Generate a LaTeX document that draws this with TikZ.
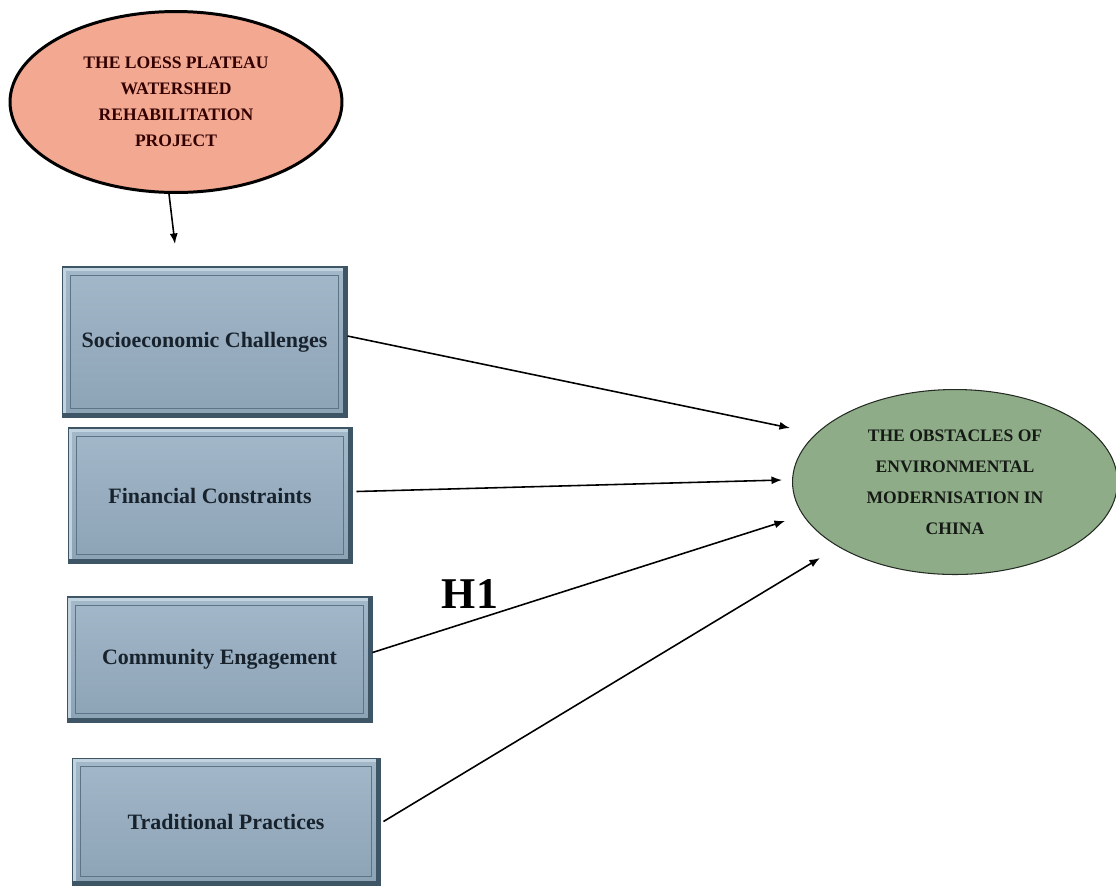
\documentclass[tikz,border=0pt]{standalone}
\usepackage{fontspec}
\setmainfont{Liberation Serif}
\usetikzlibrary{shapes.geometric,arrows.meta}

\definecolor{salmon}{HTML}{F2A891}
\definecolor{sage}{HTML}{8FAC89}
\definecolor{boxtop}{HTML}{A3B8C9}
\definecolor{boxbottom}{HTML}{8CA3B6}
\definecolor{boxlight}{HTML}{C2D3E0}
\definecolor{boxdark}{HTML}{3E5566}
\definecolor{boxtext}{HTML}{18222C}

\begin{document}
\begin{tikzpicture}
[
	x=0.02cm, y=-0.02cm,
	box/.style={rectangle,draw=boxdark,line width=0.6pt,top color=boxtop,bottom color=boxbottom,
		text=boxtext,font=\fontsize{12.5}{15}\selectfont\bfseries,
		path picture={
			\draw[boxlight,line width=5pt] (path picture bounding box.south west) -- (path picture bounding box.north west) -- (path picture bounding box.north east);
			\draw[boxdark,line width=5pt] (path picture bounding box.south west) -- (path picture bounding box.south east) -- (path picture bounding box.north east);
			\draw[boxdark!60!boxbottom,line width=0.4pt] ([shift={(5pt,-5pt)}]path picture bounding box.north west) rectangle ([shift={(-5pt,5pt)}]path picture bounding box.south east);
		}},
	oval/.style={ellipse,inner sep=0pt,align=center},
	arrow/.style={-{Latex[length=6pt,width=4.6pt]},line width=0.9pt}
]

	\useasboundingbox (0,0) rectangle (1116,887);

	% project
	\node[oval,draw=black,line width=1.7pt,fill=salmon,text=black!80!red,
		minimum width=6.64cm,minimum height=3.62cm,
		font=\fontsize{10}{14.7}\selectfont\bfseries] at (176,102) (project)
		{THE LOESS PLATEAU\\WATERSHED\\REHABILITATION\\PROJECT};
	\coordinate (drop) at (175,244);
	\draw[arrow] ([xshift=-0.14cm]project.south) -- (drop);

	% factors
	\node[box,minimum width=5.7cm,minimum height=3cm] at (204.5,342) (socio) {Socioeconomic Challenges};
	\node[box,minimum width=5.68cm,minimum height=2.7cm] at (210,495.5) (finance) {Financial Constraints};
	\node[box,minimum width=6.1cm,minimum height=2.5cm] at (219.5,659.5) (community) {Community Engagement};
	\node[box,minimum width=6.16cm,minimum height=2.54cm] at (226,821.5) (tradition) {Traditional Practices};

	% outcome
	\node[oval,draw=black!75!sage,line width=0.6pt,fill=sage,text=black!85!sage,
		minimum width=6.5cm,minimum height=3.7cm,
		font=\fontsize{10}{17.6}\selectfont\bfseries] at (955,482) (obstacles)
		{THE OBSTACLES OF\\ENVIRONMENTAL\\MODERNISATION IN\\CHINA};

	% hypotheses
	\coordinate (in1) at (790,428);
	\coordinate (in2) at (782,480);
	\coordinate (in3) at (785,521);
	\coordinate (in4) at (820,558);
	\draw[arrow] ([yshift=0.12cm]socio.east) -- (in1);
	\draw[arrow] ([xshift=0.08cm,yshift=0.08cm]finance.east) -- (in2);
	\draw[arrow] ([yshift=0.14cm]community.east) -- (in3);
	\draw[arrow] ([xshift=0.06cm]tradition.east) -- (in4);
	\node[font=\fontsize{25}{30}\selectfont\bfseries] at (470,594) (h1) {H1};

\end{tikzpicture}
\end{document}
